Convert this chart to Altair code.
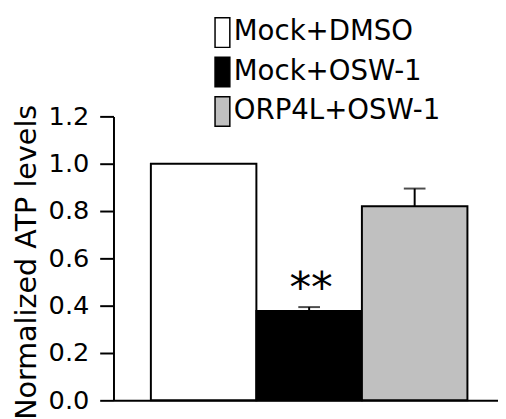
import altair as alt
import pandas as pd

groups = ["Mock+DMSO", "Mock+OSW-1", "ORP4L+OSW-1"]
values = [1.0, 0.378, 0.82]
errors = [0.0, 0.016, 0.075]
fills = ["#ffffff", "#000000", "#c0c0c0"]
y_ticks = [0.0, 0.2, 0.4, 0.6, 0.8, 1.0, 1.2]
sig_group = ["Mock+OSW-1"]
sig_y = [0.414]
sig_label = ["**"]

FONT = "DejaVu Sans"

df = pd.DataFrame({"group": groups, "value": values, "err": errors})
df["upper"] = df["value"] + df["err"]
err_df = df[df["err"] > 0]
sig_df = pd.DataFrame({"group": sig_group, "y": sig_y, "label": sig_label})

x_enc = alt.X(
    "group:N",
    sort=groups,
    scale=alt.Scale(paddingInner=0, paddingOuter=0.322, align=0.55),
    axis=alt.Axis(labels=False, ticks=False, title=None, domain=True),
)
y_scale = alt.Scale(domain=[0, 1.2], nice=False, zero=True)

bars = alt.Chart(df).mark_bar(stroke="black", strokeWidth=2).encode(
    x=x_enc,
    y=alt.Y(
        "value:Q",
        scale=y_scale,
        axis=alt.Axis(
            values=y_ticks,
            format=".1f",
            title="Normalized ATP levels",
            tickSize=14,
            labelPadding=11,
            titleX=-79,
            titleY=147.5,
            titleBaseline="alphabetic",
            grid=False,
        ),
    ),
    fill=alt.Fill(
        "group:N",
        sort=groups,
        scale=alt.Scale(domain=groups, range=fills),
        legend=alt.Legend(
            title=None,
            orient="none",
            legendX=87,
            legendY=-101,
            symbolType="M0,-1H1V1H0Z",
            symbolSize=900,
            symbolStrokeColor="black",
            symbolStrokeWidth=1.5,
            labelFont=FONT,
            labelFontSize=28,
            labelColor="black",
            labelOffset=3,
            labelLimit=400,
            rowPadding=4,
            padding=0,
        ),
    ),
)

stems = alt.Chart(err_df).mark_rule(color="black", strokeWidth=2).encode(
    x=alt.X("group:N", sort=groups),
    y=alt.Y("value:Q"),
    y2="upper:Q",
)

caps = alt.Chart(err_df).mark_tick(color="black", thickness=2, size=22).encode(
    x=alt.X("group:N", sort=groups),
    y=alt.Y("upper:Q"),
)

stars = alt.Chart(sig_df).mark_text(
    font=FONT, fontSize=44, baseline="alphabetic", align="center", color="black", dx=2
).encode(
    x=alt.X("group:N", sort=groups),
    y=alt.Y("y:Q"),
    text="label:N",
)

chart = (
    alt.layer(bars, stems, caps, stars)
    .properties(
        width=390,
        height=288,
        padding={"left": 107, "top": 107, "right": 0, "bottom": 16},
        autosize=alt.AutoSizeParams(type="none"),
    )
    .configure_view(stroke=None)
    .configure_axis(
        domainColor="black",
        domainWidth=2,
        tickColor="black",
        tickWidth=2,
        labelFont=FONT,
        labelFontSize=26,
        labelColor="black",
        titleFont=FONT,
        titleFontSize=29,
        titleFontWeight="normal",
        titleColor="black",
    )
)

chart.save("out.html", embed_options={"renderer": "svg", "actions": False})
